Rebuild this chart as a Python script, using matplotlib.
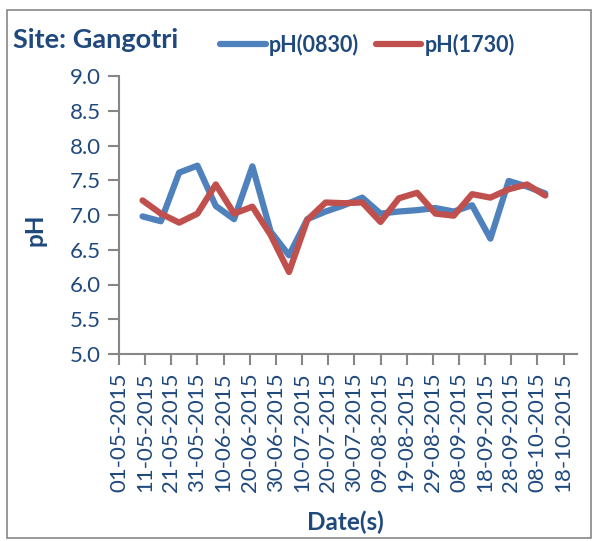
import numpy as np
import pandas as pd
import matplotlib
matplotlib.use("Agg")
import matplotlib.pyplot as plt
import matplotlib.dates as mdates
from matplotlib.patches import Rectangle

plt.rcParams['font.family'] = ['Lato', 'DejaVu Sans']

# sampling dates (weekly) and pH readings
dates = ['10-05-2015', '17-05-2015', '24-05-2015', '31-05-2015', '07-06-2015',
         '14-06-2015', '21-06-2015', '28-06-2015', '05-07-2015', '12-07-2015',
         '19-07-2015', '26-07-2015', '02-08-2015', '09-08-2015', '16-08-2015',
         '23-08-2015', '30-08-2015', '06-09-2015', '13-09-2015', '20-09-2015',
         '27-09-2015', '04-10-2015', '11-10-2015']
ph_0830 = [6.98, 6.91, 7.61, 7.71, 7.13, 6.94, 7.70, 6.76, 6.42, 6.94,
           7.05, 7.14, 7.25, 7.02, 7.05, 7.07, 7.10, 7.05, 7.14, 6.66,
           7.49, 7.41, 7.31]
ph_1730 = [7.21, 7.02, 6.89, 7.02, 7.44, 7.02, 7.12, 6.71, 6.18, 6.93,
           7.18, 7.17, 7.18, 6.90, 7.24, 7.32, 7.02, 6.99, 7.30, 7.25,
           7.37, 7.44, 7.28]
tick_dates = ['01-05-2015', '11-05-2015', '21-05-2015', '31-05-2015', '10-06-2015',
              '20-06-2015', '30-06-2015', '10-07-2015', '20-07-2015', '30-07-2015',
              '09-08-2015', '19-08-2015', '29-08-2015', '08-09-2015', '18-09-2015',
              '28-09-2015', '08-10-2015', '18-10-2015']
yticks = [5.0, 5.5, 6.0, 6.5, 7.0, 7.5, 8.0, 8.5, 9.0]

x = pd.to_datetime(dates, format='%d-%m-%Y')
xt = pd.to_datetime(tick_dates, format='%d-%m-%Y')

txt = '#1F497D'
axc = '#868686'
blue = '#4F81BD'
red = '#C0504D'

fig = plt.figure(figsize=(5.93, 5.41), dpi=100)
fig.patches.append(Rectangle((7/593, 1-538/541), (591-7)/593, (538-10)/541,
                             transform=fig.transFigure, fill=False,
                             edgecolor=axc, linewidth=1.2))

ax = fig.add_axes([119/593, 1-354/541, (576.7-119)/593, (354-76)/541])
l1, = ax.plot(x, ph_0830, color=blue, lw=4.5, solid_capstyle='round', solid_joinstyle='round', label='pH(0830)')
l2, = ax.plot(x, ph_1730, color=red, lw=4.5, solid_capstyle='round', solid_joinstyle='round', label='pH(1730)')

ax.set_ylim(5.0, 9.0)
ax.set_yticks(yticks)
ax.set_yticklabels(['%.1f' % v for v in yticks])
ax.set_xlim(pd.Timestamp('2015-05-01'), pd.Timestamp('2015-10-23'))
ax.set_xticks(xt)
ax.xaxis.set_major_formatter(mdates.DateFormatter('%d-%m-%Y'))
for lab in ax.get_xticklabels():
    lab.set_rotation(90)

for s in ['top', 'right']:
    ax.spines[s].set_visible(False)
for s in ['left', 'bottom']:
    ax.spines[s].set_color(axc)
    ax.spines[s].set_linewidth(1.5)
ax.tick_params(axis='both', colors=axc, length=8, width=1.5, labelcolor=txt, labelsize=16, pad=5)

fig.text(119/593 - 84/593, 1-230/541, 'pH', rotation=90, ha='center', va='center',
         color=txt, fontsize=17.5, fontweight='bold')
fig.text(345/593, 1-522/541, 'Date(s)', ha='center', va='center',
         color=txt, fontsize=17.5, fontweight='bold')
fig.text(13/593, 1-40/541, 'Site: Gangotri', ha='left', va='center',
         color=txt, fontsize=19.5, fontweight='bold')

leg = fig.legend(handles=[l1, l2], loc='center left', bbox_to_anchor=(201/593, 1-45/541),
                 ncol=2, frameon=False, handlelength=2.1, handletextpad=0.15,
                 columnspacing=0.8, prop={'weight': 'bold', 'size': 15.5})
for t in leg.get_texts():
    t.set_color(txt)

fig.savefig('out.png', dpi=100)
